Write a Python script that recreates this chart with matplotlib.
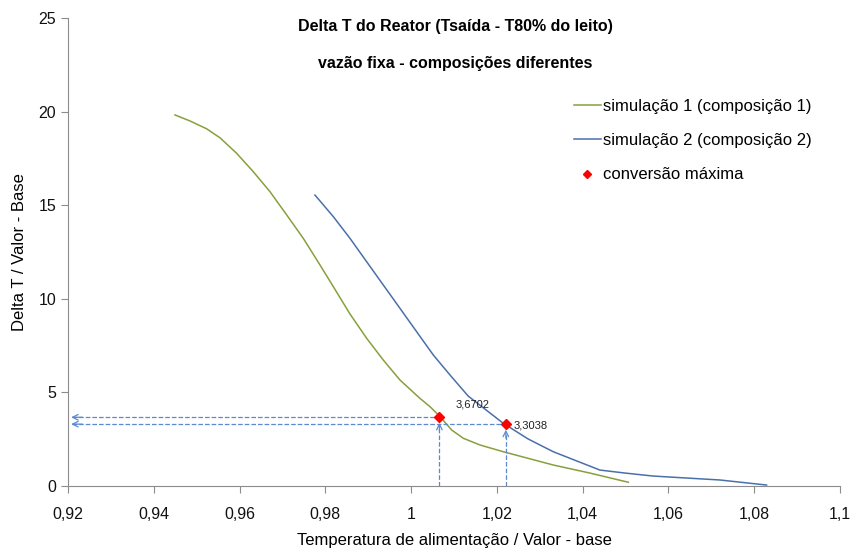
import matplotlib.pyplot as plt
from matplotlib.ticker import FuncFormatter

plt.rcParams['font.family'] = ['Liberation Sans', 'DejaVu Sans']

# simulação 1 (composição 1)
x1 = [0.94495, 0.94844, 0.95234, 0.95544, 0.95933, 0.96320, 0.96710, 0.97099,
      0.97486, 0.97875, 0.98186, 0.98575, 0.98964, 0.99351, 0.99741, 1.00207,
      1.00440, 1.00673, 1.00946, 1.01217, 1.01606, 1.02149, 1.03315, 1.04170,
      1.05064]
y1 = [19.82, 19.50, 19.08, 18.60, 17.77, 16.79, 15.72, 14.48,
      13.23, 11.81, 10.65, 9.19, 7.89, 6.73, 5.66, 4.68,
      4.24, 3.71, 2.99, 2.55, 2.19, 1.83, 1.12, 0.69,
      0.20]

# simulação 2 (composição 2)
x2 = [0.97759, 0.98186, 0.98575, 0.98964, 0.99351, 0.99741, 1.00130, 1.00517,
      1.00907, 1.01333, 1.02149, 1.02730, 1.03315, 1.04404, 1.04990, 1.05647,
      1.07201, 1.08290]
y2 = [15.54, 14.39, 13.23, 11.98, 10.74, 9.49, 8.24, 7.00,
      5.93, 4.80, 3.35, 2.51, 1.83, 0.85, 0.69, 0.53,
      0.32, 0.05]

# conversão máxima
xm = [1.0066, 1.0221]
ym = [3.6702, 3.3038]
lab_m = ['3,6702', '3,3038']

fig = plt.figure(figsize=(8.51, 5.5), dpi=100)
ax = fig.add_axes([0.0799, 0.1164, 0.9071, 0.8509])

ax.plot(x1, y1, color='#86a03c', lw=1.1, label='simulação 1 (composição 1)')
ax.plot(x2, y2, color='#4a70aa', lw=1.1, label='simulação 2 (composição 2)')

# setas tracejadas
arrow_c = '#5b8ad0'
for xx, yy in zip(xm, ym):
    ax.plot([0.921, xx], [yy, yy], ls='--', color=arrow_c, lw=0.9)
    ax.annotate('', xy=(0.9201, yy), xytext=(0.924, yy),
                arrowprops=dict(arrowstyle='->', color=arrow_c, lw=0.9))
    ax.plot([xx, xx], [0, yy - 0.6], ls='--', color=arrow_c, lw=0.9)
    ax.annotate('', xy=(xx, yy - 0.15), xytext=(xx, yy - 0.9),
                arrowprops=dict(arrowstyle='->', color=arrow_c, lw=0.9))

ax.plot(xm, ym, ls='none', marker='D', ms=5.5, color='#ff0000', label='conversão máxima',
        zorder=5)
ax.text(xm[0] + 0.0037, ym[0] + 0.5, lab_m[0], fontsize=8, color='#222222')
ax.text(xm[1] + 0.0017, ym[1] - 0.05, lab_m[1], fontsize=8, color='#222222', va='center')

ax.set_xlim(0.92, 1.1)
ax.set_ylim(0, 25)
ax.set_xticks([0.92, 0.94, 0.96, 0.98, 1.0, 1.02, 1.04, 1.06, 1.08, 1.1])
ax.set_yticks([0, 5, 10, 15, 20, 25])
ax.xaxis.set_major_formatter(FuncFormatter(lambda v, p: ('%g' % round(v, 2)).replace('.', ',')))

for s in ['top', 'right']:
    ax.spines[s].set_visible(False)
for s in ['left', 'bottom']:
    ax.spines[s].set_color('#8c8c8c')
ax.tick_params(axis='both', colors='#8c8c8c', labelcolor='#111111', labelsize=11.5,
               length=5, direction='out')
ax.tick_params(axis='x', pad=10)

ax.set_xlabel('Temperatura de alimentação / Valor - base', fontsize=12, labelpad=8)
ax.set_ylabel('Delta T / Valor - Base', fontsize=12, labelpad=8)

fig.text(0.535, 0.951, 'Delta T do Reator (Tsaída - T80% do leito)', ha='center',
         va='center', fontsize=11.5, fontweight='bold')
fig.text(0.535, 0.885, 'vazão fixa - composições diferentes', ha='center',
         va='center', fontsize=11.5, fontweight='bold')

ax.legend(loc='upper left', bbox_to_anchor=(0.657, 0.847), bbox_transform=fig.transFigure,
          frameon=False, fontsize=12, handlelength=1.6, handletextpad=0.15,
          labelspacing=1.15, markerscale=0.8)

fig.savefig('out.png', dpi=100)
